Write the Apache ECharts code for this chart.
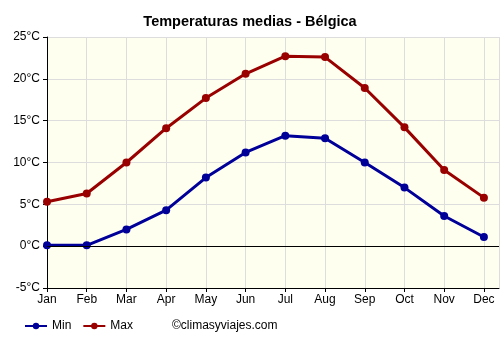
<!DOCTYPE html>
<html>
<head>
<meta charset="utf-8">
<script src="https://cdn.jsdelivr.net/npm/echarts@6/dist/echarts.min.js"></script>
<style>
  html, body { margin: 0; padding: 0; background: #fff; }
  #chart { width: 500px; height: 350px; }
</style>
</head>
<body>
<div id="chart"></div>
<script>
// datos
var months = ["Jan", "Feb", "Mar", "Apr", "May", "Jun", "Jul", "Aug", "Sep", "Oct", "Nov", "Dec"];
var tempMin = [0.1, 0.1, 2.0, 4.3, 8.2, 11.2, 13.2, 12.9, 10.0, 7.0, 3.6, 1.1];
var tempMax = [5.3, 6.3, 10.0, 14.1, 17.7, 20.6, 22.7, 22.6, 18.9, 14.2, 9.1, 5.8];

var font = "Liberation Sans, Arial, sans-serif";

function toPoints(arr) {
  return arr.map(function (v, i) { return [i, v]; });
}

var myChart = echarts.init(document.getElementById("chart"));
var option = {
  animation: false,
  title: {
    text: "Temperaturas medias - Bélgica",
    left: "center",
    top: 9,
    textStyle: { fontFamily: font, fontSize: 14.5, fontWeight: "bold", color: "#000" }
  },
  legend: {
    left: 24,
    top: 320,
    padding: 0,
    itemWidth: 22,
    itemHeight: 8,
    itemGap: 11,
    data: ["Min", "Max"],
    textStyle: { fontFamily: font, fontSize: 12, color: "#000" }
  },
  graphic: [{
    type: "text",
    left: 172,
    top: 320,
    style: { text: "©climasyviajes.com", font: "12px " + font, fill: "#000" }
  }],
  grid: {
    left: 47, right: 1, top: 37, bottom: 62,
    show: true,
    backgroundColor: "#fffff0",
    borderWidth: 0
  },
  xAxis: {
    type: "value",
    min: 0,
    max: 11.38,
    interval: 1,
    axisLine: { show: true, onZero: false, lineStyle: { color: "#000", width: 1 } },
    axisTick: { show: true, length: 4, lineStyle: { color: "#000" } },
    axisLabel: {
      fontFamily: font, fontSize: 12, color: "#000", margin: 6,
      showMaxLabel: false,
      formatter: function (v) { return months[v] || ""; }
    },
    splitLine: { show: true, lineStyle: { color: "#dddddd", width: 1 } }
  },
  yAxis: {
    type: "value",
    min: -5,
    max: 25,
    interval: 5,
    axisLine: { show: true, onZero: false, lineStyle: { color: "#000", width: 1 } },
    axisTick: { show: true, length: 4, lineStyle: { color: "#000" } },
    axisLabel: {
      fontFamily: font, fontSize: 12, color: "#000", margin: 7,
      formatter: "{value}°C"
    },
    splitLine: { show: true, lineStyle: { color: "#dddddd", width: 1 } }
  },
  series: [
    {
      name: "Min",
      type: "line",
      data: toPoints(tempMin),
      symbol: "circle",
      symbolSize: 8,
      color: "#000099",
      lineStyle: { width: 3, color: "#000099" },
      markLine: {
        silent: true,
        symbol: "none",
        label: { show: false },
        lineStyle: { color: "#000", width: 1, type: "solid" },
        data: [{ yAxis: 0 }]
      },
      z: 3
    },
    {
      name: "Max",
      type: "line",
      data: toPoints(tempMax),
      symbol: "circle",
      symbolSize: 8,
      color: "#990000",
      lineStyle: { width: 3, color: "#990000" },
      z: 3
    }
  ]
};
myChart.setOption(option);
</script>
</body>
</html>
